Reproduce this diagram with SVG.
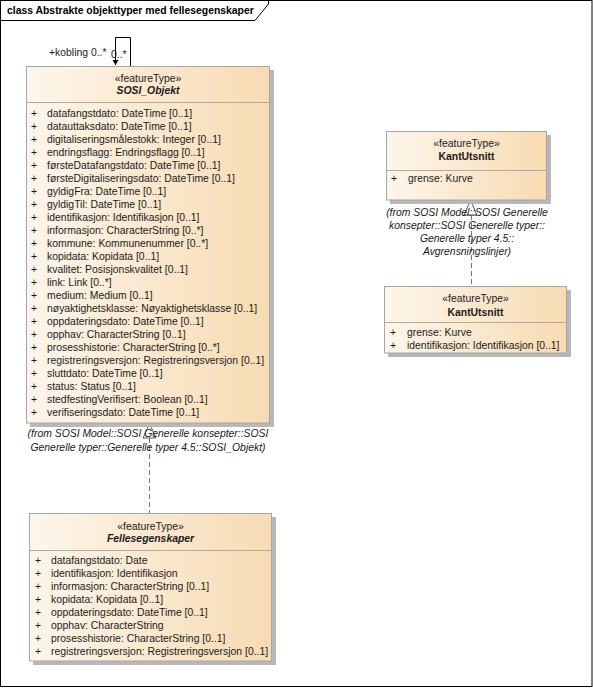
<svg xmlns="http://www.w3.org/2000/svg" width="593" height="688" viewBox="0 0 593 688">
<defs>
<linearGradient id="fill" x1="0" y1="0" x2="1" y2="0">
<stop offset="0" stop-color="#fdf6ec"/>
<stop offset="1" stop-color="#f7dbb2"/>
</linearGradient>
<style>
text{font-family:"Liberation Sans",Arial,sans-serif;font-size:10.4px;fill:#1a1a1a}
.title{font-weight:bold;font-size:10.4px;fill:#000}
.c{text-anchor:middle}
.name{font-weight:bold}
.it{font-style:italic}
.box{fill:url(#fill);stroke:#a6a6a6;stroke-width:1}
.shadow{fill:#b8b8b8}
.sep{stroke:#b5aa9a;stroke-width:1}
.dash{stroke:#777;stroke-width:1;stroke-dasharray:5,3;fill:none}
.tri{fill:#fff;stroke:#555;stroke-width:1}
.line{stroke:#000;stroke-width:1;fill:none}
</style>
</defs>
<rect x="0" y="0" width="593" height="688" fill="#fff"/>
<g id="frame">
<rect x="0.5" y="0.5" width="591.5" height="686" fill="none" stroke="#000"/>
<path d="M0.5,20.5 H255 L268.5,4 V0.5" fill="none" stroke="#000"/>
<text class="title" x="7" y="14">class Abstrakte objekttyper med fellesegenskaper</text>
</g>
<g id="connectors">
<path class="line" d="M130.5,66 V37.5 H115.5 V65"/>
<path d="M112.5,60 L115.5,65 L118.5,60 Z" fill="#000"/>
<text x="49" y="56">+kobling 0..*</text>
<text x="111" y="58">0..*</text>
<line class="dash" x1="149.5" y1="438" x2="149.5" y2="513"/>
<path class="tri" d="M149.5,423.5 L143,438 L156,438 Z"/>
<line class="dash" x1="471.5" y1="215" x2="471.5" y2="286"/>
<path class="tri" d="M470.5,200.5 L464,215 L477,215 Z"/>
</g>
<g id="SOSI_Objekt">
<rect class="shadow" x="30" y="70" width="244" height="357"/>
<rect class="box" x="26.5" y="66.5" width="243" height="356.5"/>
<text class="c" x="148" y="82">«featureType»</text>
<text class="c name it" x="148" y="94">SOSI_Objekt</text>
<line class="sep" x1="27" y1="102.5" x2="269" y2="102.5"/>
<g>
<text x="31" y="117">+</text><text x="47" y="117">datafangstdato: DateTime [0..1]</text>
<text x="31" y="130">+</text><text x="47" y="130">datauttaksdato: DateTime [0..1]</text>
<text x="31" y="143">+</text><text x="47" y="143">digitaliseringsmålestokk: Integer [0..1]</text>
<text x="31" y="156">+</text><text x="47" y="156">endringsflagg: Endringsflagg [0..1]</text>
<text x="31" y="169">+</text><text x="47" y="169">førsteDatafangstdato: DateTime [0..1]</text>
<text x="31" y="182">+</text><text x="47" y="182">førsteDigitaliseringsdato: DateTime [0..1]</text>
<text x="31" y="195">+</text><text x="47" y="195">gyldigFra: DateTime [0..1]</text>
<text x="31" y="208">+</text><text x="47" y="208">gyldigTil: DateTime [0..1]</text>
<text x="31" y="221">+</text><text x="47" y="221">identifikasjon: Identifikasjon [0..1]</text>
<text x="31" y="234">+</text><text x="47" y="234">informasjon: CharacterString [0..*]</text>
<text x="31" y="247">+</text><text x="47" y="247">kommune: Kommunenummer [0..*]</text>
<text x="31" y="260">+</text><text x="47" y="260">kopidata: Kopidata [0..1]</text>
<text x="31" y="273">+</text><text x="47" y="273">kvalitet: Posisjonskvalitet [0..1]</text>
<text x="31" y="286">+</text><text x="47" y="286">link: Link [0..*]</text>
<text x="31" y="299">+</text><text x="47" y="299">medium: Medium [0..1]</text>
<text x="31" y="312">+</text><text x="47" y="312">nøyaktighetsklasse: Nøyaktighetsklasse [0..1]</text>
<text x="31" y="325">+</text><text x="47" y="325">oppdateringsdato: DateTime [0..1]</text>
<text x="31" y="338">+</text><text x="47" y="338">opphav: CharacterString [0..1]</text>
<text x="31" y="351">+</text><text x="47" y="351">prosesshistorie: CharacterString [0..*]</text>
<text x="31" y="364">+</text><text x="47" y="364">registreringsversjon: Registreringsversjon [0..1]</text>
<text x="31" y="377">+</text><text x="47" y="377">sluttdato: DateTime [0..1]</text>
<text x="31" y="390">+</text><text x="47" y="390">status: Status [0..1]</text>
<text x="31" y="403">+</text><text x="47" y="403">stedfestingVerifisert: Boolean [0..1]</text>
<text x="31" y="416">+</text><text x="47" y="416">verifiseringsdato: DateTime [0..1]</text>
</g>
<text class="c it" x="148" y="437">(from SOSI Model::SOSI Generelle konsepter::SOSI</text>
<text class="c it" x="148" y="451">Generelle typer::Generelle typer 4.5::SOSI_Objekt)</text>
</g>
<g id="Fellesegenskaper">
<rect class="shadow" x="33" y="517" width="243" height="148"/>
<rect class="box" x="29.5" y="513.5" width="242" height="147.5"/>
<text class="c" x="150.5" y="530">«featureType»</text>
<text class="c name it" x="150.5" y="542">Fellesegenskaper</text>
<line class="sep" x1="30" y1="550.5" x2="271" y2="550.5"/>
<text x="35" y="564">+</text><text x="51" y="564">datafangstdato: Date</text>
<text x="35" y="577">+</text><text x="51" y="577">identifikasjon: Identifikasjon</text>
<text x="35" y="590">+</text><text x="51" y="590">informasjon: CharacterString [0..1]</text>
<text x="35" y="603">+</text><text x="51" y="603">kopidata: Kopidata [0..1]</text>
<text x="35" y="616">+</text><text x="51" y="616">oppdateringsdato: DateTime [0..1]</text>
<text x="35" y="629">+</text><text x="51" y="629">opphav: CharacterString</text>
<text x="35" y="642">+</text><text x="51" y="642">prosesshistorie: CharacterString [0..1]</text>
<text x="35" y="655">+</text><text x="51" y="655">registreringsversjon: Registreringsversjon [0..1]</text>
</g>
<g id="KantUtsnitt_1">
<rect class="shadow" x="390" y="135" width="161" height="69"/>
<rect class="box" x="386.5" y="131.5" width="160" height="68.5"/>
<text class="c" x="466.5" y="147">«featureType»</text>
<text class="c name" x="466.5" y="160">KantUtsnitt</text>
<line class="sep" x1="387" y1="170.5" x2="546" y2="170.5"/>
<text x="391" y="182">+</text><text x="408" y="182">grense: Kurve</text>
<text class="c it" x="467" y="216">(from SOSI Model::SOSI Generelle</text>
<text class="c it" x="467" y="229">konsepter::SOSI Generelle typer::</text>
<text class="c it" x="467" y="242">Generelle typer 4.5::</text>
<text class="c it" x="467" y="255">Avgrensningslinjer)</text>
</g>
<g id="KantUtsnitt_2">
<rect class="shadow" x="388" y="290" width="183" height="67"/>
<rect class="box" x="384.5" y="286.5" width="182" height="66.5"/>
<text class="c" x="475.5" y="302">«featureType»</text>
<text class="c name" x="475.5" y="316">KantUtsnitt</text>
<line class="sep" x1="385" y1="322.5" x2="566" y2="322.5"/>
<text x="390" y="336">+</text><text x="407" y="336">grense: Kurve</text>
<text x="390" y="349">+</text><text x="407" y="349">identifikasjon: Identifikasjon [0..1]</text>
</g>
</svg>
